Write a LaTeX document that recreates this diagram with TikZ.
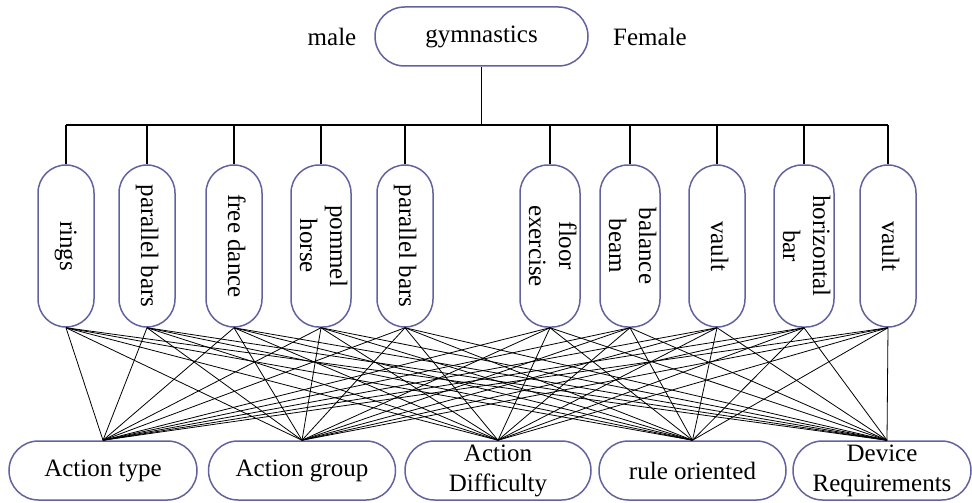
\documentclass[tikz,border=0pt]{standalone}
\usepackage{fontspec}
\setmainfont{Liberation Serif}
\usetikzlibrary{calc}
\definecolor{boxline}{RGB}{98,98,160}
\newcommand{\vlabel}[1]{\rotatebox{-90}{\begin{tabular}{@{}c@{}}#1\end{tabular}}}
\begin{document}
\begin{tikzpicture}[x=1pt,y=-1pt,
  every node/.style={font=\fontsize{25}{30}\selectfont},
  pill/.style={draw=boxline, line width=1.5pt, inner sep=0pt},
  vpill/.style={pill, minimum width=56pt, minimum height=162pt, rounded corners=28pt},
  hpill/.style={pill, minimum height=59pt, rounded corners=29.5pt, align=center},
  tree/.style={line width=1.4pt},
  link/.style={line width=0.8pt}]
\useasboundingbox (0,0) rectangle (972,503);

% root
\node[hpill, minimum width=213pt] (root) at (481.5,36.5) {gymnastics};
\node (male) at (332,37) {male};
\node (female) at (650,37) {Female};

% apparatus
\node[vpill] (a1)  at (66,246)  {\vlabel{rings}};
\node[vpill] (a2)  at (147,246) {\vlabel{parallel bars}};
\node[vpill] (a3)  at (234,246) {\vlabel{free dance}};
\node[vpill] (a4)  at (321,246) {\vlabel{pommel\\horse}};
\node[vpill] (a5)  at (405,246) {\vlabel{parallel bars}};
\node[vpill] (a6)  at (550,246) {\vlabel{floor\\exercise}};
\node[vpill] (a7)  at (630,246) {\vlabel{balance\\beam}};
\node[vpill] (a8)  at (717,246) {\vlabel{vault}};
\node[vpill] (a9)  at (804,246) {\vlabel{horizontal\\bar}};
\node[vpill] (a10) at (888,246) {\vlabel{vault}};

% criteria
\node[hpill, minimum width=188pt] (b1) at (103,470.5) {Action type};
\node[hpill, minimum width=187pt] (b2) at (302,470.5) {Action group};
\node[hpill, minimum width=186pt] (b3) at (498,470.5) {Action\\Difficulty};
\node[hpill, minimum width=187pt] (b4) at (692.5,470.5) {rule oriented};
\node[hpill, minimum width=178pt] (b5) at (882,470.5) {Device\\Requirements};
\coordinate (b5top) at ($(b5.north)+(5,0)$);

% tree
\coordinate (bus) at (481.5,125);
\draw[tree] (root.south) -- (bus);
\draw[tree] (a1.north |- bus) -- (a10.north |- bus);
\foreach \i in {1,...,10} \draw[tree] (a\i.north |- bus) -- (a\i.north);

% links: every apparatus to every criterion
\foreach \i in {1,...,10} {
  \foreach \j in {b1,b2,b3,b4} \draw[link] (a\i.south) -- (\j.north);
  \draw[link] (a\i.south) -- (b5top);
}
\end{tikzpicture}
\end{document}
